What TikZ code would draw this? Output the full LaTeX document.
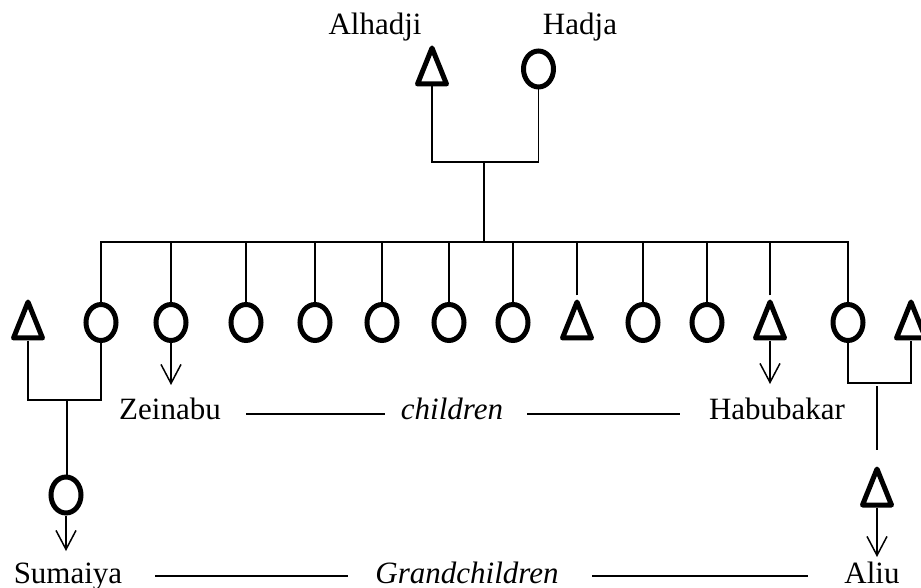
\documentclass[tikz,border=0pt]{standalone}
\usepackage{fontspec}
\setmainfont{Liberation Serif}
\usetikzlibrary{shapes.geometric,arrows.meta}

\begin{document}
\begin{tikzpicture}[x=1pt,y=-1pt,
  female/.style={ellipse,draw,line width=5pt,minimum width=30pt,minimum height=36pt,inner sep=0pt},
  male/.style={isosceles triangle,isosceles triangle stretches,shape border rotate=90,
    draw,line width=5pt,line join=round,minimum width=29pt,minimum height=36pt,inner sep=0pt,anchor=south},
  link/.style={line width=1.8pt},
  descent/.style={line width=1.5pt,-{Straight Barb[length=19pt,width=20pt,line width=1.5pt]}},
  label/.style={font=\fontsize{31}{36}\selectfont,inner sep=0pt,anchor=base},
  rule/.style={line width=1.8pt}
]
\useasboundingbox (0,0) rectangle (921,588);

% parents
\node[male]   (fa) at (432,86.5) {};
\node[female] (mo) at (538.5,69) {};
\node[label]  (faname) at (375,35) {Alhadji};
\node[label]  (moname) at (580,35) {Hadja};
\coordinate (pm)  at (484,162);
\coordinate (bar) at (484,242);
\draw[link] (fa.south) |- (pm) -| (mo.south);
\draw[link] (pm) -- (bar);

% children row (and two in-married spouses)
\node[male]   (s1)  at (28,340.5) {};
\node[female] (c1)  at (101,322.5) {};
\node[female] (c2)  at (171,322.5) {};
\node[female] (c3)  at (246,322.5) {};
\node[female] (c4)  at (315,322.5) {};
\node[female] (c5)  at (382,322.5) {};
\node[female] (c6)  at (449,322.5) {};
\node[female] (c7)  at (513,322.5) {};
\node[male]   (c8)  at (577,340.5) {};
\node[female] (c9)  at (643,322.5) {};
\node[female] (c10) at (707,322.5) {};
\node[male]   (c11) at (770,340.5) {};
\node[female] (c12) at (848,322.5) {};
\node[male]   (s2)  at (911,340.5) {};

\draw[link] (c1.north) |- (bar) -| (c12.north);
\foreach \c in {c2,c3,c4,c5,c6,c7,c8,c9,c10,c11}
  \draw[link] (\c.north) -- (\c.north |- bar);

% marriages of the first and last child
\coordinate (m1) at (67,400);
\coordinate (m2) at (877,383);
\draw[link] (s1.south) |- (m1) -| (c1.south);
\draw[link] (c12.south) |- (m2) -| (s2.south);

% grandchildren
\node[female] (g1) at (66,495) {};
\node[male]   (g2) at (877,507.5) {};
\draw[link] (m1) -- (m1 |- g1.north);
\draw[link,shorten <=3pt,shorten >=12pt] (m2) -- (m2 |- g2.north);

% descent arrows
\coordinate (zt) at (171,385);
\coordinate (ht) at (770,384);
\coordinate (st) at (66,551);
\coordinate (at) at (877,557);
\draw[descent] (c2.south) -- (zt);
\draw[descent] (c11.south) -- (ht);
\draw[descent] (g1.south) -- (st);
\draw[descent] (g2.south) -- (at);

% generation labels
\node[label] (zein) at (170,419) {Zeinabu};
\node[label] (chl)  at (452,419) {\itshape children};
\node[label] (habu) at (777,419) {Habubakar};
\coordinate (r1a) at (246,414);
\coordinate (r1b) at (385,414);
\coordinate (r1c) at (527,414);
\coordinate (r1d) at (680,414);
\draw[rule] (r1a) -- (r1b);
\draw[rule] (r1c) -- (r1d);

\node[label] (suma) at (68,583) {Sumaiya};
\node[label] (gchl) at (467,583) {\itshape Grandchildren};
\node[label] (aliu) at (872,583) {Aliu};
\coordinate (r2a) at (155,576);
\coordinate (r2b) at (348,576);
\coordinate (r2c) at (592,576);
\coordinate (r2d) at (808,576);
\draw[rule] (r2a) -- (r2b);
\draw[rule] (r2c) -- (r2d);
\end{tikzpicture}
\end{document}
